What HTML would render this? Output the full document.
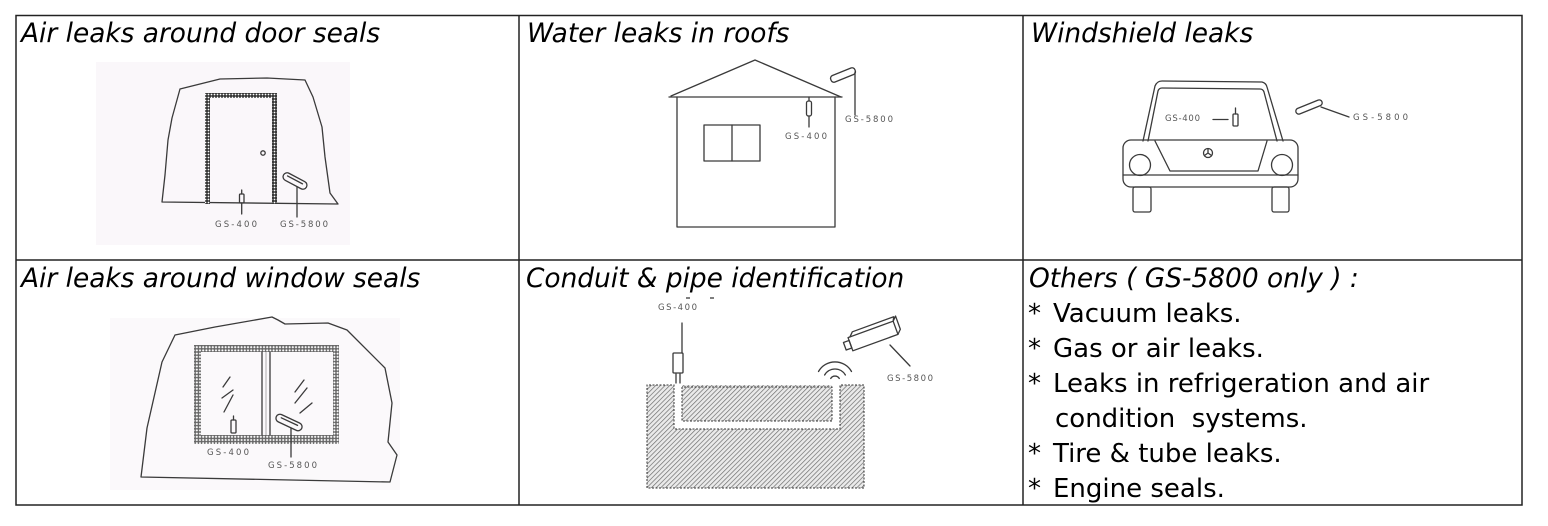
<!DOCTYPE html>
<html>
<head>
<meta charset="utf-8">
<style>
  html, body { margin:0; padding:0; background:#fff; }
  svg { display:block; }
  .t { font-family:"DejaVu Sans","Liberation Sans",sans-serif; font-size:26.4px; font-style:italic; fill:#000; }
  .b { font-family:"DejaVu Sans","Liberation Sans",sans-serif; font-size:26px; fill:#000; }
  .s { font-family:"DejaVu Sans","Liberation Sans",sans-serif; font-size:8.5px; fill:#555; }
  .ln { fill:none; stroke:#3a3a3a; stroke-width:1.3; stroke-linejoin:round; stroke-linecap:round; }
</style>
</head>
<body>
<svg width="1548" height="526" viewBox="0 0 1548 526" xmlns="http://www.w3.org/2000/svg">
  <defs>
    <pattern id="dots" width="3" height="3" patternUnits="userSpaceOnUse">
      <rect width="3" height="3" fill="#333"/>
      <circle cx="1.5" cy="1.5" r="0.9" fill="#fff"/>
    </pattern>
    <pattern id="dots2" width="3.2" height="3.2" patternUnits="userSpaceOnUse">
      <rect width="3.2" height="3.2" fill="#666"/>
      <circle cx="1.6" cy="1.6" r="1.05" fill="#fff"/>
    </pattern>
    <pattern id="hatch" width="3.3" height="3.3" patternUnits="userSpaceOnUse" patternTransform="rotate(45)">
      <rect width="3.3" height="3.3" fill="#eaeaea"/>
      <line x1="0" y1="0" x2="0" y2="3.3" stroke="#666" stroke-width="1.3"/>
    </pattern>
  </defs>

  <!-- faint scan backgrounds -->
  <rect x="96" y="62" width="254" height="183" fill="#faf7fa"/>
  <rect x="110" y="318" width="290" height="172" fill="#fbf9fb"/>

  <!-- table grid -->
  <g stroke="#222" stroke-width="1.5" fill="none">
    <rect x="16" y="15.5" width="1506" height="489.5"/>
    <line x1="16" y1="260" x2="1522" y2="260"/>
    <line x1="519" y1="15.5" x2="519" y2="505"/>
    <line x1="1023" y1="15.5" x2="1023" y2="505"/>
  </g>

  <!-- titles -->
  <text class="t" x="21" y="42">Air leaks around door seals</text>
  <text class="t" x="527" y="42">Water leaks in roofs</text>
  <text class="t" x="1031" y="42">Windshield leaks</text>
  <text class="t" x="21" y="287">Air leaks around window seals</text>
  <text class="t" x="526" y="287">Conduit &amp; pipe identification</text>
  <text class="t" x="1029" y="287">Others ( GS-5800 only ) :</text>

  <!-- others list -->
  <g class="b">
    <text x="1028" y="322">*</text><text x="1053" y="322">Vacuum leaks.</text>
    <text x="1028" y="357">*</text><text x="1053" y="357">Gas or air leaks.</text>
    <text x="1028" y="392">*</text><text x="1053" y="392">Leaks in refrigeration and air</text>
    <text x="1055" y="427" xml:space="preserve">condition  systems.</text>
    <text x="1028" y="462">*</text><text x="1053" y="462">Tire &amp; tube leaks.</text>
    <text x="1028" y="497">*</text><text x="1053" y="497">Engine seals.</text>
  </g>

  <!-- ===== Door ===== -->
  <path class="ln" d="M162,202 L165,175 L168,140 L172,118 L180,89 L192,86 L220,79 L267,78 L305,80 L313,97 L322,127 L325,157 L330,193 L338,204 L162,202"/>
  <path d="M205,204 V93 H277 V204 H272 V98 H210 V204 Z" fill="url(#dots)" fill-rule="evenodd"/>
  <circle class="ln" cx="263" cy="153" r="2.2"/>
  <rect class="ln" x="239.5" y="194" width="4.5" height="9" rx="1"/>
  <path class="ln" d="M241.7,190 V194 M241.7,203 V214"/>
  <text class="s" x="215" y="227" textLength="42" lengthAdjust="spacing">GS-400</text>
  <g transform="translate(295,181) rotate(28)">
    <rect class="ln" x="-13" y="-4" width="26" height="8" rx="4"/>
    <line class="ln" x1="-9" y1="-1" x2="8" y2="-1"/>
  </g>
  <path class="ln" d="M297,187 V217"/>
  <text class="s" x="280" y="227" textLength="48" lengthAdjust="spacing">GS-5800</text>

  <!-- ===== House ===== -->
  <path class="ln" d="M671,96 L755,60 L841,97"/>
  <path class="ln" d="M669,97 H842"/>
  <path class="ln" d="M677,97 V227 H835 V97"/>
  <rect class="ln" x="704" y="125" width="56" height="36"/>
  <path class="ln" d="M732,125 V161"/>
  <rect class="ln" x="806.5" y="101" width="5" height="15" rx="2"/>
  <path class="ln" d="M809,97 V101 M809,116 V127"/>
  <text class="s" x="785" y="139" textLength="42" lengthAdjust="spacing">GS-400</text>
  <g transform="translate(843,75) rotate(-22)">
    <rect class="ln" x="-13" y="-3.5" width="26" height="7" rx="3"/>
  </g>
  <path class="ln" d="M855,72 V115"/>
  <text class="s" x="845" y="122" textLength="48" lengthAdjust="spacing">GS-5800</text>

  <!-- ===== Car ===== -->
  <path class="ln" d="M1143,141 L1155,86 Q1157,81 1162,81 L1262,82 Q1266,83 1267,87 L1283,141"/>
  <path class="ln" d="M1148,141 L1158,91 Q1159,88 1162,88 L1260,89 Q1263,89 1264,92 L1277,141"/>
  <rect class="ln" x="1123" y="140" width="175" height="47" rx="8"/>
  <path class="ln" d="M1123,175 H1298"/>
  <path class="ln" d="M1155,141 L1170,171 H1258 L1267,141"/>
  <circle class="ln" cx="1140" cy="165" r="10.5"/>
  <circle class="ln" cx="1282" cy="165" r="10.5"/>
  <circle class="ln" cx="1208" cy="153" r="4.5"/>
  <path class="ln" d="M1208,149 V153 L1204.5,155.5 M1208,153 L1211.5,155.5" stroke-width="0.9"/>
  <rect class="ln" x="1133" y="187" width="18" height="25" rx="2"/>
  <rect class="ln" x="1272" y="187" width="17" height="25" rx="2"/>
  <text class="s" x="1165" y="121" textLength="35" lengthAdjust="spacing">GS-400</text>
  <path class="ln" d="M1213,119.5 H1228"/>
  <rect class="ln" x="1233" y="114" width="5" height="12" rx="1"/>
  <path class="ln" d="M1235.5,108 V114"/>
  <g transform="translate(1309,107) rotate(-22)">
    <rect class="ln" x="-14" y="-3" width="28" height="6" rx="3"/>
  </g>
  <path class="ln" d="M1321,107 L1349,117"/>
  <text class="s" x="1353" y="120" textLength="55" lengthAdjust="spacing">GS-5800</text>

  <!-- ===== Window ===== -->
  <path class="ln" d="M141,477 L147,428 L162,362 L175,335 L215,327 L272,317 L278,320 L285,324 L328,323 L347,330 L385,368 L392,403 L388,442 L397,455 L390,482 L141,477"/>
  <path d="M194,444 V345 H339 V444 Z M201,435 H333 V352 H201 Z" fill="url(#dots2)" fill-rule="evenodd"/>
  <path class="ln" d="M262,352 V435 M270,352 V435"/>
  <path d="M266,352 V435" stroke="#999" stroke-width="0.8"/>
  <path class="ln" d="M223,387 L230,377 M222,398 L233,390 M224,412 L233,395 M295,392 L304,380 M295,403 L307,388 M300,413 L312,403" stroke-width="1"/>
  <rect class="ln" x="231" y="420" width="5" height="13" rx="1"/>
  <path class="ln" d="M233.5,416 V420"/>
  <text class="s" x="207" y="455" textLength="42" lengthAdjust="spacing">GS-400</text>
  <g transform="translate(289,422.5) rotate(25)">
    <rect class="ln" x="-14" y="-4" width="28" height="8" rx="4"/>
    <line class="ln" x1="-9" y1="-1" x2="9" y2="-1"/>
  </g>
  <path class="ln" d="M291,428 V457"/>
  <text class="s" x="268" y="468" textLength="49" lengthAdjust="spacing">GS-5800</text>

  <!-- ===== Conduit ===== -->
  <rect x="647" y="385" width="217" height="103" fill="url(#hatch)"/>
  <path d="M674,385 V429 H840 V385 H832 V421 H682 V385 Z" fill="#fff"/>
  <g fill="none" stroke="#333" stroke-width="1" stroke-dasharray="2 1.5">
    <path d="M647,488 V385 H674 V429 H840 V385 H864 V488 Z"/>
    <path d="M682,387 V421 H832 V387 H682"/>
  </g>
  <text class="s" x="658" y="310" textLength="39" lengthAdjust="spacing">GS-400</text>
  <path d="M686,298 H690 M710,298 H714" stroke="#333" stroke-width="1.2"/>
  <path class="ln" d="M682,323 V353"/>
  <rect class="ln" x="673" y="353" width="10" height="20" rx="1"/>
  <path class="ln" d="M676,374 V383 M680,374 V383" stroke-width="1"/>
  <g class="ln">
    <path d="M830.7,378.5 A5 5 0 0 1 839.3,378.5"/>
    <path d="M824.6,375 A12 12 0 0 1 845.4,375"/>
    <path d="M818.5,371.5 A19 19 0 0 1 851.5,371.5"/>
  </g>
  <g transform="translate(873,336) rotate(-20)">
    <rect class="ln" x="-24" y="-7" width="48" height="14" fill="#fff"/>
    <path class="ln" d="M-22,-7 L-18,-11 H26 L24,-7 M24,-7 L28,-11 V3 L24,7"/>
    <rect class="ln" x="-30" y="-4" width="6" height="8"/>
  </g>
  <path class="ln" d="M890,345 L910,366"/>
  <text class="s" x="887" y="381" textLength="46" lengthAdjust="spacing">GS-5800</text>
</svg>
</body>
</html>
